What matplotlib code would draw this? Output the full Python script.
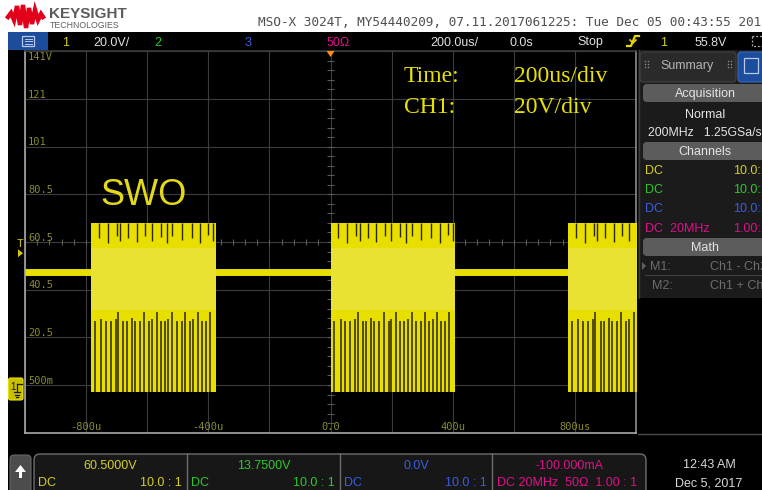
import numpy as np
import matplotlib
matplotlib.use('Agg')
import matplotlib.pyplot as plt
from matplotlib.patches import Rectangle, FancyBboxPatch, Polygon

# ---------------- data ----------------
burst_start_us = [-784, 0, 778]
burst_length_us = 409
level_high_v = 68.5
level_low_v = -2.5
level_idle_v = 48.0
mid_band_v = [32.0, 58.0]
low_gap_offset_us = [13, 33, 48, 65, 81, 89, 106, 117, 133, 144, 160, 174, 190, 199,
                     215, 229, 242, 253, 266, 280, 297, 308, 324, 335, 349, 362, 375, 389]
low_gap_top_v = [27.5, 28.0, 27.5, 27.5, 28.0, 31.0, 27.5, 27.5, 28.5, 27.5, 27.5, 31.0, 27.5, 28.0,
                 31.0, 27.5, 27.5, 28.0, 31.0, 27.5, 27.5, 31.0, 27.5, 28.0, 31.0, 27.5, 27.5, 31.0]
high_gap_offset_us = [26, 55, 84, 95, 122, 150, 177, 199, 229, 248, 266, 297, 330, 357, 384, 400]
high_gap_bottom_v = [62, 60, 63, 61, 62, 60.5, 63, 61, 62.5, 60, 63, 61.5, 62, 60, 63.5, 61]
trigger_level_v = 55.8
x_tick_us = [-800, -400, 0, 400, 800]
x_tick_labels = ['-800u', '-400u', '0.0', '400u', '800us']
y_grid_v = [140.5, 120.5, 100.5, 80.5, 60.5, 40.5, 20.5, 0.5]
y_grid_labels = ['141V', '121', '101', '80.5', '60.5', '40.5', '20.5', '500m']
x_range_us = [-1000, 1000]
y_range_v = [-19.5, 140.5]

title_text = 'MSO-X 3024T, MY54440209, 07.11.2017061225: Tue Dec 05 00:43:55 2017'
ch_readouts = ['60.5000V', '13.7500V', '0.0V', '-100.000mA']
ch_probe = ['10.0 : 1', '10.0 : 1', '10.0 : 1', '1.00 : 1']
ch_coupling = ['DC', 'DC', 'DC', 'DC 20MHz  50\u03a9']
ch_colors = ['#d6d020', '#2ec82e', '#3a5ee0', '#e0108a']

# ---------------- figure ----------------
W, H = 762, 490
fig = plt.figure(figsize=(W / 100, H / 100), dpi=100, facecolor='white')

bg = fig.add_axes([0, 0, 1, 1], zorder=0)
bg.set_xlim(0, W); bg.set_ylim(H, 0); bg.axis('off')

top = fig.add_axes([0, 0, 1, 1], zorder=5)
top.set_xlim(0, W); top.set_ylim(H, 0); top.axis('off')
top.patch.set_alpha(0)

SANS = 'Liberation Sans'
YEL = '#e8de00'


def rect(a, x0, y0, x1, y1, fc, ec='none', lw=0, z=1, ls='-'):
    a.add_patch(Rectangle((x0, y0), x1 - x0, y1 - y0, facecolor=fc, edgecolor=ec, lw=lw, zorder=z, ls=ls))


def rbox(a, x0, y0, x1, y1, fc, ec='none', lw=0, r=4, z=1):
    a.add_patch(FancyBboxPatch((x0, y0), x1 - x0, y1 - y0,
                               boxstyle='round,pad=0,rounding_size=%g' % r,
                               facecolor=fc, edgecolor=ec, lw=lw, zorder=z))


def txt(x, y, s, c='#e0e0e0', size=9, ha='left', family=SANS, weight='normal', a=top, z=6):
    a.text(x, y, s, color=c, fontsize=size, ha=ha, va='baseline', family=family,
           fontweight=weight, zorder=z, clip_on=True)


# scope display background
rect(bg, 8, 32, W, H, '#000000')

# ---------------- header (white) ----------------
logo_x = [8, 11, 14, 17, 20, 23, 26, 29, 32, 35, 38, 41, 43]
logo_y = [17, 13, 20, 6, 25, 5, 28, 8, 24, 10, 20, 14, 17]
bg.plot(logo_x, logo_y, color='#e3001b', lw=3.2, solid_joinstyle='miter', zorder=3)
txt(49, 18.5, 'KEYSIGHT', c='#5c5c5c', size=11, weight='bold', a=bg)
txt(50, 27.5, 'TECHNOLOGIES', c='#606060', size=6.3, a=bg)
txt(258, 26.5, title_text, c='#505050', size=9.15, family='DejaVu Sans Mono', a=bg)

# ---------------- status bar ----------------
rect(bg, 8, 32, 48, 50, '#1c4c9c', z=2)
rect(bg, 22, 36, 34, 46, 'none', ec='#b8c8e8', lw=0.9, z=3)
for yy in (39, 41.5, 44):
    bg.plot([24.5, 31.5], [yy, yy], color='#b8c8e8', lw=0.7, zorder=3)
txt(62, 45.5, '1', c='#d6d020', a=bg)
txt(93, 45.5, '20.0V/', c='#e0e0e0', a=bg)
txt(154, 45.5, '2', c='#2ec82e', a=bg)
txt(245, 45.5, '3', c='#3a5ee0', a=bg)
txt(327, 45.5, '50\u03a9', c='#e0108a', a=bg)
txt(430, 45.5, '200.0us/', c='#e0e0e0', a=bg)
txt(510, 45.5, '0.0s', c='#e0e0e0', a=bg)
txt(577, 45.5, 'Stop', c='#e0e0e0', a=bg)
bg.plot([627, 631, 635, 639], [46, 46, 36, 36], color='#e8d800', lw=1.6, zorder=3)
bg.plot([630, 633, 636], [40, 43, 40], color='#e8d800', lw=1.2, zorder=3)
txt(660, 45.5, '1', c='#d6d020', a=bg)
txt(695, 45.5, '55.8V', c='#e0e0e0', a=bg)
rect(bg, 752, 36, 764, 46, 'none', ec='#b0b0b0', lw=0.9, z=3, ls=(0, (1.5, 1.5)))

# ---------------- main scope screen ----------------
ax_l, ax_r, ax_t, ax_b = 25, 636, 51.3, 432.7
ax = fig.add_axes([ax_l / W, 1 - ax_b / H, (ax_r - ax_l) / W, (ax_b - ax_t) / H], zorder=2)
ax.set_facecolor('#000000')
ax.set_xlim(*x_range_us)
ax.set_ylim(*y_range_v)
ax.set_xticks(np.arange(x_range_us[0], x_range_us[1] + 1, 200))
ax.set_yticks(y_grid_v)
ax.grid(True, color='#3c3c3c', lw=0.8, zorder=0)
ax.set_axisbelow(True)
ax.tick_params(length=0, labelbottom=False, labelleft=False)
for side, col in (('left', '#a8a8a8'), ('bottom', '#a8a8a8'), ('right', '#8c8c8c'), ('top', '#3a3a3a')):
    ax.spines[side].set_color(col)
    ax.spines[side].set_linewidth(1.2)

# minor ticks on the centre lines
xc, yc = 0, y_grid_v[4]
ax.vlines(np.arange(x_range_us[0], x_range_us[1], 40), yc - 1.2, yc + 1.2, color='#5a5a5a', lw=0.8, zorder=1)
ax.hlines(np.arange(y_range_v[0], y_range_v[1], 4), xc - 10, xc + 10, color='#5a5a5a', lw=0.8, zorder=1)

# grid labels
LBL = '#8a8a2e'
for v, s in zip(y_grid_v, y_grid_labels):
    yy = v - 2.6 if v == y_grid_v[0] else v + 1.8
    ax.text(-990, yy, s, color=LBL, fontsize=7.5, family='DejaVu Sans Mono', ha='left', va='center', zorder=6)
for t, s in zip(x_tick_us, x_tick_labels):
    ax.text(t, -17.1, s, color=LBL, fontsize=7.5, family='DejaVu Sans Mono', ha='center', va='center', zorder=6)

# waveform: idle level
ax.axhline(level_idle_v, color=YEL, lw=5, zorder=2)

# waveform: bursts
for s in burst_start_us:
    e = s + burst_length_us
    ax.fill_between([s, e], level_low_v, level_high_v, color=YEL, lw=0, zorder=3)
    ax.fill_between([s, e], mid_band_v[0], mid_band_v[1], color='#eae232', lw=0, zorder=3.1)
    ax.vlines([s + o for o in low_gap_offset_us], level_low_v, low_gap_top_v,
              color='#2a2600', lw=1.1, zorder=4)
    ax.vlines([s + o for o in high_gap_offset_us], high_gap_bottom_v, level_high_v,
              color='#2a2600', lw=1.0, zorder=4)

# annotation texts on the screen
txt(100, 205, 'SWO', c='#e4d818', size=26)
txt(404, 82, 'Time:', c='#e8e000', size=17, family='Liberation Serif')
txt(514, 82, '200us/div', c='#e8e000', size=17, family='Liberation Serif')
txt(404, 113, 'CH1:', c='#e8e000', size=17, family='Liberation Serif')
txt(514, 113, '20V/div', c='#e8e000', size=17, family='Liberation Serif')

# trigger position marker (top) and trigger level marker (left)
x_trig = ax_l + (0 - x_range_us[0]) / (x_range_us[1] - x_range_us[0]) * (ax_r - ax_l)
top.add_patch(Polygon([[x_trig - 4, 51], [x_trig + 4, 51], [x_trig, 57]], closed=True,
                      facecolor='#ff8c10', edgecolor='none', zorder=7))
y_trig = ax_t + (y_range_v[1] - trigger_level_v) / (y_range_v[1] - y_range_v[0]) * (ax_b - ax_t)
txt(16.5, y_trig - 6, 'T', c='#d8c800', size=8)
top.add_patch(Polygon([[18, y_trig - 4], [18, y_trig + 4], [23, y_trig]], closed=True,
                      facecolor='#d8c800', edgecolor='none', zorder=7))

# channel 1 ground marker
rbox(top, 8.5, 378, 23, 400, '#c8c000', ec='#e8e000', lw=0.8, r=2, z=7)
txt(10, 390, '1', c='#1a1a00', size=7, z=8)
top.plot([13.5, 19.5], [392, 392], color='#1a1a00', lw=0.9, zorder=8)
top.plot([14.5, 18.5], [394.5, 394.5], color='#1a1a00', lw=0.9, zorder=8)
top.plot([15.5, 17.5], [397, 397], color='#1a1a00', lw=0.9, zorder=8)
top.plot([16.5, 16.5], [384, 392], color='#1a1a00', lw=0.9, zorder=8)
top.plot([16.5, 21.5], [384, 384], color='#1a1a00', lw=0.9, zorder=8)

# ---------------- right side panel ----------------
rect(bg, 638, 50, W, 298, '#1b1b1b', z=1)
bg.plot([638.5, 638.5], [50, 298], color='#3c3c3c', lw=1, zorder=2)
rbox(bg, 640, 52, 736, 82, '#2a2a2a', ec='#444444', lw=0.8, r=3, z=2)
rbox(bg, 738, 52, 770, 82, '#1c4c9c', ec='#3a6ac0', lw=0.8, r=3, z=2)
rect(bg, 744, 58, 758, 73, 'none', ec='#b8c8e8', lw=0.9, z=3)
for gx in (645, 648, 728, 731):
    bg.scatter([gx, gx, gx], [61, 64, 67], s=1.2, color='#8a8a8a', zorder=3, lw=0)
txt(660, 69.5, 'Summary', c='#b4b4b4', size=9, a=bg)
for y0, y1, lab in ((84, 102, 'Acquisition'), (142, 160, 'Channels'), (238, 256, 'Math')):
    rbox(bg, 643, y0, 770, y1, '#5c5c5c', r=4, z=2)
    txt(705, y1 - 5, lab, c='#e4e4e4', size=9, ha='center', a=bg)
txt(705, 117.5, 'Normal', c='#e4e4e4', size=9, ha='center', a=bg)
txt(648, 136, '200MHz   1.25GSa/s', c='#e4e4e4', size=8.8, a=bg)
panel_rows_y = [174, 193, 212, 232]
panel_left = ['DC', 'DC', 'DC', 'DC  20MHz']
panel_right = ['10.0:1', '10.0:1', '10.0:1', '1.00:1']
for yy, l, r, c in zip(panel_rows_y, panel_left, panel_right, ch_colors):
    txt(645, yy, l, c=c, size=9, a=bg)
    txt(733, yy, r, c=c, size=9, a=bg)
top.add_patch(Polygon([[642, 262], [642, 270], [646, 266]], closed=True, facecolor='#606060', zorder=7))
txt(650, 270, 'M1:', c='#6c6c6c', size=9, a=bg)
txt(710, 270, 'Ch1 - Ch2', c='#6c6c6c', size=9, a=bg)
bg.plot([645, W], [275, 275], color='#404040', lw=0.8, zorder=2)
txt(652, 289, 'M2:', c='#6c6c6c', size=9, a=bg)
txt(710, 289, 'Ch1 + Ch2', c='#6c6c6c', size=9, a=bg)
bg.plot([638, W], [433.5, 433.5], color='#4a4a4a', lw=1, zorder=2)

# ---------------- bottom channel readouts ----------------
rbox(bg, 10, 455, 31, 496, '#4c4c4c', ec='#666666', lw=0.8, r=4, z=2)
bg.add_patch(Polygon([[15, 472], [20.5, 465], [26, 472]], closed=True, facecolor='white', zorder=3))
rect(bg, 18.6, 471, 22.4, 477.5, 'white', z=3)

rbox(bg, 34, 454, 646, 500, '#171717', ec='#6e6e6e', lw=1.0, r=6, z=2)
box_edges = [34, 187, 340, 492, 646]
for xe in box_edges[1:-1]:
    bg.plot([xe, xe], [454, H], color='#6e6e6e', lw=1.0, zorder=3)
for i in range(4):
    x0, x1 = box_edges[i], box_edges[i + 1]
    c = ch_colors[i]
    txt((x0 + x1) / 2, 468.5, ch_readouts[i], c=c, size=9, ha='center', a=bg)
    if i < 3:
        txt(x0 + 4, 485.5, ch_coupling[i], c=c, size=9, a=bg)
        txt(x1 - 5, 485.5, ch_probe[i], c=c, size=9, ha='right', a=bg)
    else:
        txt(x0 + 5, 485.5, ch_coupling[i] + '  ' + ch_probe[i], c=c, size=9, a=bg)
txt(709, 467.5, '12:43 AM', c='#d8d8d8', size=9, ha='center', a=bg)
txt(709, 486.5, 'Dec 5, 2017', c='#d8d8d8', size=9, ha='center', a=bg)

fig.savefig('out.png', dpi=100, facecolor='white')
